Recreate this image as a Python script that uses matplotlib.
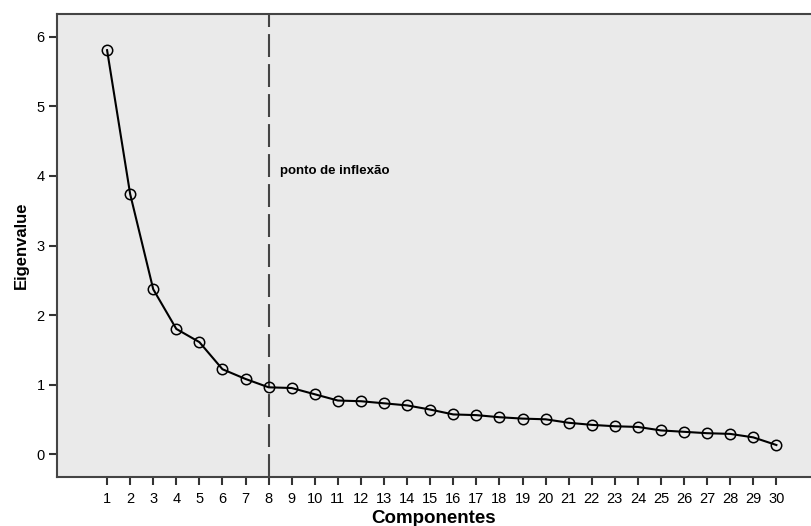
import matplotlib.pyplot as plt

# Данные: собственные значения компонент
componentes = list(range(1, 31))
eigenvalues = [5.81, 3.74, 2.37, 1.80, 1.61, 1.22, 1.08, 0.96, 0.95, 0.86,
               0.77, 0.76, 0.73, 0.70, 0.64, 0.57, 0.56, 0.53, 0.51, 0.50,
               0.45, 0.42, 0.40, 0.39, 0.34, 0.32, 0.30, 0.29, 0.24, 0.13]
y_ticks = [0, 1, 2, 3, 4, 5, 6]
ponto_inflexao = 8
texto_inflexao = 'ponto de inflexão'

plt.rcParams['font.family'] = ['Liberation Sans', 'DejaVu Sans']

fig = plt.figure(figsize=(8.11, 5.26), dpi=100)
ax = fig.add_axes([57 / 811, 49 / 526, 754 / 811, 463 / 526])
ax.set_facecolor('#eaeaea')

# Линия и маркеры
ax.plot(componentes, eigenvalues, color='black', linewidth=1.5,
        marker='o', markersize=7.5, markerfacecolor='none',
        markeredgecolor='black', markeredgewidth=1.1, zorder=3)

# Вертикальная линия в точке перегиба
ax.axvline(ponto_inflexao, color='#444444', linewidth=1.5,
           linestyle=(0, (11, 3.4)), zorder=2)
ax.text(ponto_inflexao + 0.5, 4.07, texto_inflexao, fontsize=9.5,
        fontweight='bold', va='center', ha='left')

ax.set_xlim(-1.17, 31.5)
ax.set_ylim(-0.33, 6.33)
ax.set_xticks(componentes)
ax.set_yticks(y_ticks)
ax.tick_params(axis='both', labelsize=10.5, length=6, width=1.5,
               color='#333333', direction='out', pad=3)
ax.tick_params(axis='x', pad=5)

for side in ['left', 'bottom', 'top']:
    ax.spines[side].set_color('#444444')
    ax.spines[side].set_linewidth(1.5)
ax.spines['right'].set_visible(False)

ax.set_xlabel('Componentes', fontsize=13.5, fontweight='bold', labelpad=3)
ax.set_ylabel('Eigenvalue', fontsize=12, fontweight='bold', labelpad=5)

fig.savefig('out.png', dpi=100)
